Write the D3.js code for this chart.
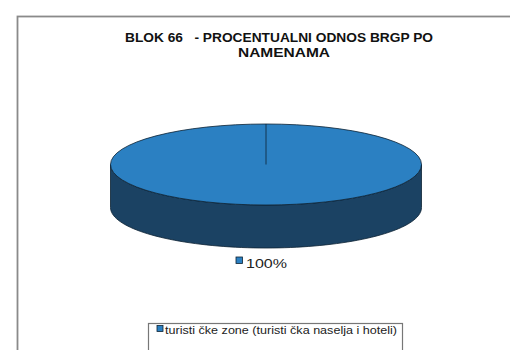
<!DOCTYPE html>
<html>
<head>
<meta charset="utf-8">
<script src="https://cdn.jsdelivr.net/npm/d3@7"></script>
<style>
  html, body { margin: 0; padding: 0; background: #fff; }
  svg { display: block; }
  text { font-family: "Liberation Sans", Arial, sans-serif; white-space: pre; }
</style>
</head>
<body>
<svg id="chart" width="510" height="350"></svg>
<script>
// Data
const categories = ["turisti čke zone (turisti čka naselja i hoteli)"];
const values = [100];
const percentLabels = ["100%"];
const titleLines = ["BLOK 66   - PROCENTUALNI ODNOS BRGP PO", "NAMENAMA"];
const topColors = ["#2b80c2"];
const sideColors = ["#1b4263"];

const svg = d3.select("#chart");

// Outer frame
svg.append("rect")
  .attr("x", 17.5).attr("y", 16.5)
  .attr("width", 520).attr("height", 360)
  .attr("fill", "#fff").attr("stroke", "#8a8a8a").attr("stroke-width", 1.8);

// Title (two lines, stretched to the chart-area width)
const titleSpecs = [{ x: 279, y: 42, w: 308 }, { x: 284, y: 57, w: 92 }];
svg.selectAll("text.title").data(titleLines).enter().append("text")
  .attr("class", "title")
  .attr("x", (d, i) => titleSpecs[i].x - titleSpecs[i].w / 2)
  .attr("y", (d, i) => titleSpecs[i].y)
  .attr("textLength", (d, i) => titleSpecs[i].w)
  .attr("lengthAdjust", "spacingAndGlyphs")
  .attr("font-size", 13.5).attr("font-weight", "bold")
  .attr("fill", "#111")
  .text(d => d);

// 3D pie geometry
const cx = 266, cy = 164.5, rx = 155.5, ry = 40.5, depth = 43;
const pie = d3.pie().sort(null).startAngle(0).endAngle(2 * Math.PI);
const arcs = pie(values);
const arc = d3.arc().innerRadius(0).outerRadius(rx);

// point on ellipse for d3 angle convention (0 = top, clockwise)
const pt = a => [cx + rx * Math.sin(a), cy - ry * Math.cos(a)];

const g = svg.append("g");

// Side walls: visible where the ellipse faces the viewer (angles PI/2..3PI/2)
arcs.forEach((d, i) => {
  const a0 = Math.max(d.startAngle, Math.PI / 2);
  const a1 = Math.min(d.endAngle, 3 * Math.PI / 2);
  if (a1 <= a0) return;
  const n = 80;
  const topPts = d3.range(n + 1).map(k => pt(a0 + (a1 - a0) * k / n));
  const botPts = topPts.map(p => [p[0], p[1] + depth]).reverse();
  g.append("path")
    .attr("d", d3.line()(topPts.concat(botPts)) + "Z")
    .attr("fill", sideColors[i])
    .attr("stroke", "#0d2233").attr("stroke-width", 0.8);
});

// Top faces
g.selectAll("path.top").data(arcs).enter().append("path")
  .attr("class", "top")
  .attr("transform", `translate(${cx},${cy}) scale(1,${ry / rx})`)
  .attr("d", arc)
  .attr("fill", (d, i) => topColors[i])
  .attr("stroke", "#0d2233").attr("stroke-width", 0.8)
  .attr("vector-effect", "non-scaling-stroke");

// Slice edge from centre to start angle
arcs.forEach(d => {
  const p = pt(d.startAngle);
  g.append("line")
    .attr("x1", cx).attr("y1", cy).attr("x2", p[0]).attr("y2", p[1])
    .attr("stroke", "#0d2233").attr("stroke-width", 0.8);
});

// Percentage label with colour key
const lbl = svg.append("g").attr("transform", "translate(236,257)");
lbl.append("rect").attr("x", 0).attr("y", 0).attr("width", 6.5).attr("height", 6.5)
  .attr("fill", topColors[0]).attr("stroke", "#0d2233").attr("stroke-width", 0.8);
lbl.append("text").attr("x", 10).attr("y", 11)
  .attr("textLength", 41).attr("lengthAdjust", "spacingAndGlyphs")
  .attr("font-size", 13).attr("fill", "#222").text(percentLabels[0]);

// Legend
const lg = svg.append("g");
lg.append("rect")
  .attr("x", 148.5).attr("y", 323.5).attr("width", 254).attr("height", 40)
  .attr("fill", "#fff").attr("stroke", "#777").attr("stroke-width", 1.2);
categories.forEach((c, i) => {
  lg.append("rect").attr("x", 157).attr("y", 325.5 + i * 14).attr("width", 6).attr("height", 6)
    .attr("fill", topColors[i]).attr("stroke", "#0d2233").attr("stroke-width", 0.8);
  lg.append("text").attr("x", 165).attr("y", 334 + i * 14)
    .attr("textLength", 232).attr("lengthAdjust", "spacingAndGlyphs")
    .attr("font-size", 11).attr("fill", "#222").text(c);
});
</script>
</body>
</html>
